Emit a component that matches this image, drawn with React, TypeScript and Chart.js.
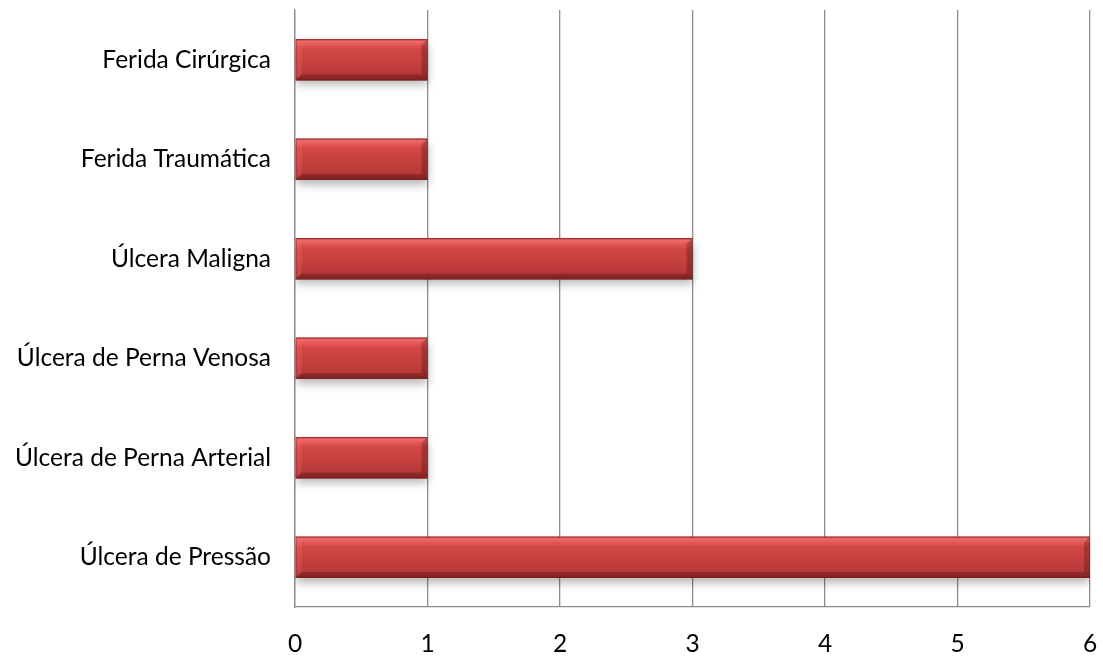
import React, { useEffect, useRef } from "react";
import { Chart, registerables } from "chart.js";

Chart.register(...registerables);

const categories = [
  "Ferida Cirúrgica",
  "Ferida Traumática",
  "Úlcera Maligna",
  "Úlcera de Perna Venosa",
  "Úlcera de Perna Arterial",
  "Úlcera de Pressão",
];
const values = [1, 1, 3, 1, 1, 6];
const xTicks = [0, 1, 2, 3, 4, 5, 6];

const FONT = "Lato, 'Open Sans', sans-serif";
const FONT_SIZE = 24.5;

const bevelPlugin = {
  id: "bevel",
  beforeDatasetsDraw(chart: any) {
    const ctx = chart.ctx;
    const meta = chart.getDatasetMeta(0);
    meta.data.forEach((bar: any) => {
      const { y, height } = bar.getProps(["y", "height"], true);
      const t = y - height / 2;
      const b = y + height / 2;
      if (!isFinite(t) || !isFinite(b)) return;
      const g = ctx.createLinearGradient(0, t, 0, b);
      g.addColorStop(0, "#b83a3a");
      g.addColorStop(0.05, "#ee6c6c");
      g.addColorStop(0.14, "#e45858");
      g.addColorStop(0.25, "#d24646");
      g.addColorStop(0.6, "#c63f3f");
      g.addColorStop(0.85, "#b53838");
      g.addColorStop(1, "#8a2828");
      bar.options = Object.assign({}, bar.options, { backgroundColor: g });
    });
    ctx.save();
    ctx.shadowColor = "rgba(0,0,0,0.3)";
    ctx.shadowBlur = 9;
    ctx.shadowOffsetY = 5;
  },
  afterDatasetsDraw(chart: any) {
    const ctx = chart.ctx;
    ctx.restore();
    const meta = chart.getDatasetMeta(0);
    meta.data.forEach((bar: any) => {
      const { x, y, base, height } = bar.getProps(["x", "y", "base", "height"], true);
      const l = Math.min(x, base);
      const r = Math.max(x, base);
      const t = y - height / 2;
      const b = y + height / 2;
      const d = 6;
      ctx.save();
      ctx.fillStyle = "rgba(90,15,15,0.3)";
      ctx.beginPath();
      ctx.moveTo(l, b); ctx.lineTo(r, b); ctx.lineTo(r - d, b - d); ctx.lineTo(l + d, b - d); ctx.closePath();
      ctx.fill();
      ctx.fillStyle = "rgba(255,130,130,0.2)";
      ctx.beginPath();
      ctx.moveTo(l, t); ctx.lineTo(l + d, t + d); ctx.lineTo(l + d, b - d); ctx.lineTo(l, b); ctx.closePath();
      ctx.fill();
      ctx.fillStyle = "rgba(80,10,10,0.3)";
      ctx.beginPath();
      ctx.moveTo(r, t); ctx.lineTo(r - d, t + d); ctx.lineTo(r - d, b - d); ctx.lineTo(r, b); ctx.closePath();
      ctx.fill();
      ctx.strokeStyle = "rgba(130,30,30,0.55)";
      ctx.lineWidth = 1;
      ctx.strokeRect(l + 0.5, t + 0.5, r - l - 1, b - t - 1);
      ctx.restore();
    });
  },
};

export default function App() {
  const ref = useRef<HTMLCanvasElement | null>(null);

  useEffect(() => {
    document.body.style.margin = "0";
    const canvas = ref.current!;
    const chart = new Chart(canvas, {
      type: "bar",
      data: {
        labels: categories,
        datasets: [
          {
            data: values,
            barPercentage: 0.83,
            categoryPercentage: 0.5,
            borderSkipped: false,
            backgroundColor: () => "#c84040",
          },
        ],
      },
      options: {
        indexAxis: "y",
        animation: false,
        responsive: false,
        maintainAspectRatio: false,
        layout: { padding: { top: 10, right: 13, left: 0, bottom: 0 } },
        plugins: { legend: { display: false }, tooltip: { enabled: false } },
        scales: {
          x: {
            min: 0,
            max: 6,
            afterBuildTicks: (s: any) => {
              s.ticks = xTicks.map((v) => ({ value: v }));
            },
            afterFit: (s: any) => {
              s.height = 50;
              s.paddingLeft = 0;
              s.paddingRight = 0;
            },
            grid: { color: "#8c8c8c", lineWidth: 1.3, drawTicks: false },
            border: { color: "#8c8c8c", width: 1.3 },
            ticks: {
              padding: 22,
              color: "#000",
              font: { family: FONT, size: FONT_SIZE },
            },
          },
          y: {
            afterFit: (s: any) => {
              s.width = 295;
              s.paddingTop = 0;
              s.paddingBottom = 0;
            },
            grid: { display: false, drawTicks: false },
            border: { display: true, color: "#8c8c8c", width: 1.3 },
            ticks: {
              padding: 24,
              color: "#000",
              font: { family: FONT, size: FONT_SIZE },
            },
          },
        },
      },
      plugins: [bevelPlugin],
    } as any);
    return () => chart.destroy();
  }, []);

  return (
    <div style={{ position: "absolute", left: 0, top: 0, width: 1103, height: 657 }}>
      <canvas ref={ref} width={1103} height={657} style={{ width: 1103, height: 657, display: "block" }} />
    </div>
  );
}
